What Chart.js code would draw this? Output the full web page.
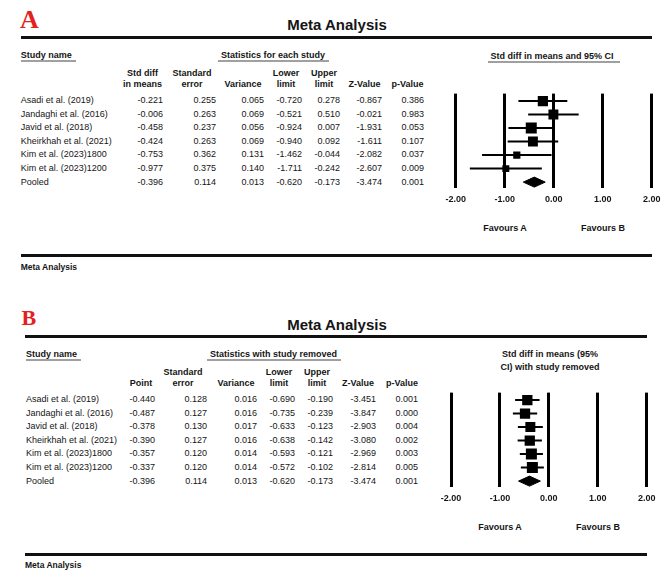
<!DOCTYPE html>
<html>
<head>
<meta charset="utf-8">
<script src="https://cdn.jsdelivr.net/npm/chart.js@4.4.0/dist/chart.umd.min.js"></script>
<style>
    body { margin: 0; background: #fff; }
    #page { position: relative; width: 669px; height: 584px; overflow: hidden; font-family: "Liberation Sans", Arial, sans-serif; color: #151515; }
    .t { position: absolute; white-space: nowrap; line-height: 1; font-size: 9px; }
    .b { font-weight: bold; }
    .rule { position: absolute; }
    .letter { position: absolute; font-family: "Liberation Serif", "Times New Roman", serif; font-weight: bold; color: #e3211d; line-height: 1; }
    canvas { position: absolute; }
</style>
</head>
<body>
<div id="page">
    <canvas id="forestA" width="239" height="131" style="left:430px; top:80px;"></canvas>
    <canvas id="forestB" width="239" height="130" style="left:430px; top:380px;"></canvas>
</div>
<script>
// study rows (last one is the pooled estimate)
var studyNames = ['Asadi et al. (2019)', 'Jandaghi et al. (2016)', 'Javid et al. (2018)', 'Kheirkhah et al. (2021)',
    'Kim et al. (2023)1800', 'Kim et al. (2023)1200', 'Pooled'];

// panel A: statistics for each study
var smdA = [-0.221, -0.006, -0.458, -0.424, -0.753, -0.977, -0.396];
var seA = [0.255, 0.263, 0.237, 0.263, 0.362, 0.375, 0.114];
var varA = [0.065, 0.069, 0.056, 0.069, 0.131, 0.140, 0.013];
var lowA = [-0.720, -0.521, -0.924, -0.940, -1.462, -1.711, -0.620];
var upA = [0.278, 0.510, 0.007, 0.092, -0.044, -0.242, -0.173];
var zA = [-0.867, -0.021, -1.931, -1.611, -2.082, -2.607, -3.474];
var pA = [0.386, 0.983, 0.053, 0.107, 0.037, 0.009, 0.001];

// panel B: statistics with study removed
var pointB = [-0.440, -0.487, -0.378, -0.390, -0.357, -0.337, -0.396];
var seB = [0.128, 0.127, 0.130, 0.127, 0.120, 0.120, 0.114];
var varB = [0.016, 0.016, 0.017, 0.016, 0.014, 0.014, 0.013];
var lowB = [-0.690, -0.735, -0.633, -0.638, -0.593, -0.572, -0.620];
var upB = [-0.190, -0.239, -0.123, -0.142, -0.121, -0.102, -0.173];
var zB = [-3.451, -3.847, -2.903, -3.080, -2.969, -2.814, -3.474];
var pB = [0.001, 0.000, 0.004, 0.002, 0.003, 0.005, 0.001];

var headA = [['Std diff', 'in means'], ['Standard', 'error'], ['', 'Variance'], ['Lower', 'limit'], ['Upper', 'limit'], ['', 'Z-Value'], ['', 'p-Value']];
var headB = [['', 'Point'], ['Standard', 'error'], ['', 'Variance'], ['Lower', 'limit'], ['Upper', 'limit'], ['', 'Z-Value'], ['', 'p-Value']];
var xTicks = [-2, -1, 0, 1, 2];
var favourLabels = ['Favours A', 'Favours B'];

var page = document.getElementById('page');

function put(text, x, y, align, cls, size) {
    var d = document.createElement('div');
    d.className = 't ' + (cls || '');
    d.textContent = text;
    d.style.left = x + 'px';
    d.style.top = y + 'px';
    if (size) d.style.fontSize = size + 'px';
    var ax = align === 'center' ? '-50%' : (align === 'right' ? '-100%' : '0');
    d.style.transform = 'translate(' + ax + ', -50%)';
    page.appendChild(d);
}

function rule(x1, x2, y, h, color) {
    var d = document.createElement('div');
    d.className = 'rule';
    d.style.left = x1 + 'px';
    d.style.width = (x2 - x1) + 'px';
    d.style.top = (y - h / 2) + 'px';
    d.style.height = h + 'px';
    d.style.background = color;
    page.appendChild(d);
}

function letter(ch, x, y, size) {
    var d = document.createElement('div');
    d.className = 'letter';
    d.textContent = ch;
    d.style.left = x + 'px';
    d.style.top = y + 'px';
    d.style.fontSize = size + 'px';
    page.appendChild(d);
}

function drawTable(L, head, cols) {
    letter(L.letter, L.letterX, L.letterY, L.letterSize);
    put('Meta Analysis', L.titleX, L.titleY, 'center', 'b', 15);
    rule(L.left, L.right, L.ruleTop, 3, '#111');
    rule(L.left, L.right, L.ruleBot, 3, '#111');
    put('Meta Analysis', L.left, L.footY, 'left', 'b', 8.5);

    put('Study name', L.nameX, L.headY, 'left', 'b');
    rule(L.nameX, L.nameX + 55, L.headY + 5.7, 2, '#a0a0a0');
    put(L.statsTitle, L.statsX, L.headY, 'center', 'b');
    rule(L.statsUl[0], L.statsUl[1], L.headY + 5.7, 2, '#a0a0a0');

    head.forEach(function(h, c) {
        if (h[0]) put(h[0], L.colC[c], L.hdr1, 'center', 'b');
        put(h[1], L.colC[c], L.hdr2, 'center', 'b');
    });

    studyNames.forEach(function(name, i) {
        var y = L.rowY0 + i * L.rowDY;
        put(name, L.nameX, y, 'left');
        cols.forEach(function(col, c) {
            put(col[i].toFixed(3), L.colR[c], y, 'right');
        });
    });
}

function forest(id, est, low, up, vars, boxMax, pad) {
    var n = est.length - 1;
    var weights = vars.slice(0, n).map(function(v) { return 1 / v; });
    var wMax = Math.max.apply(null, weights);
    var datasets = [];

    datasets.push({
        data: est.slice(0, n).map(function(v, i) { return { x: v, y: i }; }),
        pointStyle: 'rect',
        pointRadius: weights.map(function(w) { return boxMax * Math.sqrt(w / wMax) / Math.SQRT2; }),
        backgroundColor: '#000',
        borderWidth: 0
    });

    for (var i = 0; i < n; i++) {
        datasets.push({
            data: [{ x: low[i], y: i }, { x: up[i], y: i }],
            showLine: true,
            borderColor: '#000',
            borderWidth: 2,
            pointRadius: 0
        });
    }

    // pooled diamond
    var h = 0.37;
    datasets.push({
        data: [{ x: low[n], y: n }, { x: est[n], y: n - h }, { x: up[n], y: n }, { x: est[n], y: n + h }, { x: low[n], y: n }],
        showLine: true,
        fill: 'shape',
        backgroundColor: '#000',
        borderColor: '#000',
        borderWidth: 1,
        pointRadius: 0
    });

    return new Chart(document.getElementById(id).getContext('2d'), {
        type: 'scatter',
        data: { datasets: datasets },
        options: {
            responsive: false,
            animation: false,
            layout: { padding: pad },
            plugins: { legend: { display: false }, tooltip: { enabled: false } },
            scales: {
                x: {
                    min: xTicks[0],
                    max: xTicks[xTicks.length - 1],
                    afterBuildTicks: function(scale) {
                        scale.ticks = xTicks.map(function(v) { return { value: v }; });
                    },
                    ticks: {
                        padding: 6,
                        color: '#151515',
                        font: { family: 'Liberation Sans', size: 9, weight: 'bold' },
                        callback: function(value) { return Number(value).toFixed(2); }
                    },
                    grid: { color: '#000', lineWidth: 3, drawTicks: false },
                    border: { display: false }
                },
                y: { display: false, reverse: true, min: -0.55, max: 6.45 }
            }
        }
    });
}

var layoutA = {
    letter: 'A', letterX: 20, letterY: 7.4, letterSize: 26,
    titleX: 337, titleY: 24, left: 20.7, right: 651.7, ruleTop: 37, ruleBot: 255.7, footY: 266.7,
    nameX: 20.7, headY: 55, statsTitle: 'Statistics for each study', statsX: 273, statsUl: [218, 329],
    hdr1: 73, hdr2: 84, rowY0: 100, rowDY: 13.6,
    colR: [163, 216, 264, 302, 340, 382, 424],
    colC: [142.5, 192, 243, 286, 324, 364.5, 407.5]
};
var layoutB = {
    letter: 'B', letterX: 21.5, letterY: 307, letterSize: 22,
    titleX: 337, titleY: 323.7, left: 25, right: 646.7, ruleTop: 336, ruleBot: 554.3, footY: 565,
    nameX: 26, headY: 354, statsTitle: 'Statistics with study removed', statsX: 273.5, statsUl: [207, 341],
    hdr1: 372, hdr2: 383, rowY0: 399, rowDY: 13.6,
    colR: [155, 207, 257, 295, 333, 376, 418],
    colC: [141, 183, 236, 279, 317, 358, 402]
};

drawTable(layoutA, headA, [smdA, seA, varA, lowA, upA, zA, pA]);
drawTable(layoutB, headB, [pointB, seB, varB, lowB, upB, zB, pB]);

// plot headings and favour labels
put('Std diff in means and 95% CI', 552, 55.7, 'center', 'b');
rule(488, 620, 61.7, 2, '#a0a0a0');
put(favourLabels[0], 505, 228, 'center', 'b');
put(favourLabels[1], 603, 228, 'center', 'b');

put('Std diff in means (95%', 550, 354, 'center', 'b');
put('CI) with study removed', 550, 367, 'center', 'b');
put(favourLabels[0], 500, 527, 'center', 'b');
put(favourLabels[1], 598, 527, 'center', 'b');

forest('forestA', smdA, lowA, upA, varA, 11, { left: 25.7, right: 17.3, top: 13.6, bottom: 0 });
forest('forestB', pointB, lowB, upB, varB, 11, { left: 21, right: 22.3, top: 12.6, bottom: 0 });
</script>
</body>
</html>
